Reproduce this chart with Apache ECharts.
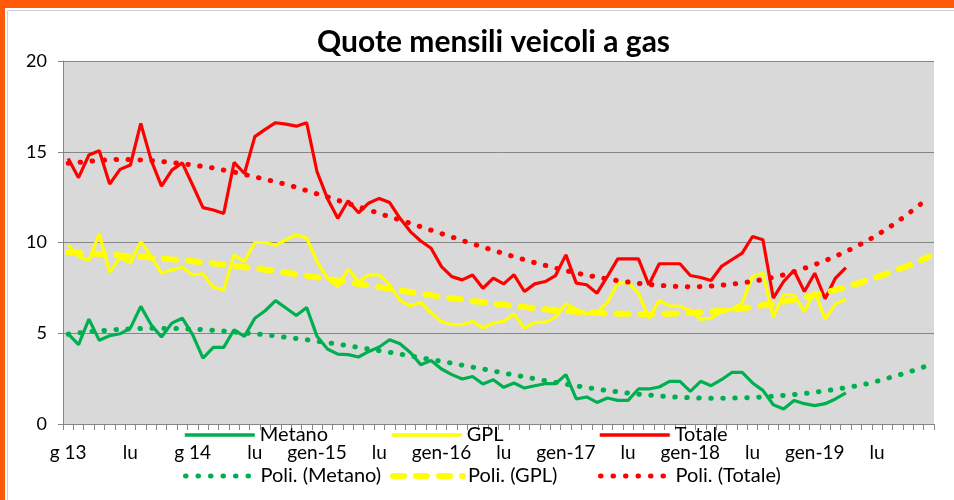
<!DOCTYPE html>
<html>
<head>
<meta charset="utf-8">
<script src="https://cdn.jsdelivr.net/npm/echarts@6/dist/echarts.min.js"></script>
<style>
  html, body { margin: 0; padding: 0; background: #fff; }
  #chart { width: 954px; height: 500px; }
</style>
</head>
<body>
<div id="chart"></div>
<script>
// etichette asse x (una ogni 6 mesi, da gen-13)
const tickLabels = ['g 13', 'lu', 'g 14', 'lu', 'gen-15', 'lu', 'gen-16', 'lu', 'gen-17', 'lu', 'gen-18', 'lu', 'gen-19', 'lu']

// quote mensili (%), gen-13 .. apr-19
const metano = [4.97, 4.37, 5.78, 4.61, 4.86, 4.97, 5.28, 6.48, 5.47, 4.79, 5.56, 5.83,
  4.92, 3.63, 4.22, 4.22, 5.19, 4.83, 5.83, 6.24, 6.80, 6.39, 5.98, 6.42,
  4.83, 4.13, 3.85, 3.82, 3.69, 4.00, 4.24, 4.64, 4.42, 3.94, 3.27, 3.50,
  3.03, 2.72, 2.48, 2.62, 2.20, 2.44, 2.02, 2.26, 1.98, 2.11, 2.22, 2.22,
  2.72, 1.38, 1.49, 1.19, 1.43, 1.30, 1.30, 1.93, 1.93, 2.04, 2.35, 2.35,
  1.80, 2.35, 2.11, 2.44, 2.84, 2.84, 2.26, 1.85, 1.06, 0.83, 1.30, 1.12,
  1.01, 1.12, 1.38, 1.71]
const gpl = [9.87, 9.23, 9.01, 10.48, 8.37, 9.17, 8.86, 10.06, 9.23, 8.31, 8.50, 8.64,
  8.22, 8.28, 7.54, 7.39, 9.32, 8.95, 10.00, 10.00, 9.85, 10.15, 10.42, 10.24,
  8.95, 8.04, 7.54, 8.53, 7.85, 8.22, 8.22, 7.67, 6.81, 6.51, 6.70, 6.11,
  5.65, 5.47, 5.47, 5.65, 5.30, 5.56, 5.65, 6.07, 5.28, 5.60, 5.60, 5.89,
  6.62, 6.33, 6.07, 6.15, 6.70, 7.76, 7.80, 7.21, 5.83, 6.81, 6.51, 6.48,
  6.25, 5.76, 5.83, 6.20, 6.33, 6.66, 8.13, 8.31, 5.89, 7.12, 7.12, 6.20,
  7.30, 5.78, 6.62, 6.88]
const totale = [14.63, 13.57, 14.82, 15.05, 13.22, 14.03, 14.27, 16.56, 14.54, 13.11, 13.99, 14.39,
  13.17, 11.92, 11.79, 11.60, 14.41, 13.80, 15.83, 16.23, 16.60, 16.52, 16.41, 16.60,
  13.90, 12.43, 11.33, 12.30, 11.64, 12.18, 12.43, 12.20, 11.33, 10.60, 10.08, 9.68,
  8.67, 8.12, 7.94, 8.21, 7.48, 8.04, 7.72, 8.22, 7.30, 7.72, 7.85, 8.18,
  9.32, 7.76, 7.67, 7.21, 8.13, 9.10, 9.10, 9.10, 7.67, 8.83, 8.83, 8.83,
  8.18, 8.07, 7.91, 8.68, 9.05, 9.41, 10.33, 10.15, 6.94, 7.85, 8.46, 7.30,
  8.31, 6.90, 8.04, 8.62]

// linee di tendenza polinomiali (fino a dic-19)
const poliMetano = [4.95, 5.02, 5.08, 5.13, 5.18, 5.21, 5.24, 5.26, 5.27, 5.27, 5.26, 5.25,
  5.23, 5.20, 5.16, 5.12, 5.07, 5.02, 4.97, 4.91, 4.85, 4.78, 4.71, 4.64,
  4.56, 4.48, 4.40, 4.31, 4.22, 4.13, 4.04, 3.95, 3.85, 3.75, 3.65, 3.55,
  3.45, 3.35, 3.24, 3.13, 3.03, 2.92, 2.81, 2.70, 2.60, 2.49, 2.39, 2.29,
  2.19, 2.10, 2.01, 1.92, 1.84, 1.77, 1.70, 1.64, 1.59, 1.54, 1.50, 1.47,
  1.45, 1.43, 1.42, 1.42, 1.43, 1.44, 1.46, 1.49, 1.53, 1.57, 1.62, 1.68,
  1.75, 1.83, 1.91, 2.00, 2.10, 2.21, 2.36, 2.52, 2.68, 2.85, 3.04, 3.24]
const poliGpl = [9.47, 9.43, 9.40, 9.36, 9.33, 9.29, 9.25, 9.21, 9.17, 9.12, 9.07, 9.02,
  8.97, 8.91, 8.85, 8.78, 8.71, 8.64, 8.57, 8.50, 8.42, 8.34, 8.26, 8.17,
  8.08, 7.99, 7.90, 7.81, 7.72, 7.63, 7.54, 7.45, 7.36, 7.27, 7.18, 7.10,
  7.01, 6.93, 6.86, 6.78, 6.71, 6.64, 6.57, 6.50, 6.44, 6.38, 6.32, 6.27,
  6.23, 6.19, 6.15, 6.12, 6.10, 6.08, 6.07, 6.06, 6.06, 6.07, 6.08, 6.10,
  6.12, 6.15, 6.19, 6.24, 6.30, 6.37, 6.45, 6.54, 6.63, 6.74, 6.85, 6.97,
  7.10, 7.24, 7.39, 7.55, 7.72, 7.90, 8.09, 8.29, 8.50, 8.72, 8.95, 9.22]
const poliTotale = [14.36, 14.41, 14.47, 14.52, 14.56, 14.58, 14.57, 14.55, 14.51, 14.46, 14.40, 14.34,
  14.27, 14.19, 14.11, 13.99, 13.88, 13.75, 13.62, 13.48, 13.35, 13.20, 13.04, 12.86,
  12.68, 12.51, 12.33, 12.15, 11.97, 11.79, 11.60, 11.42, 11.24, 11.06, 10.87, 10.68,
  10.49, 10.30, 10.11, 9.93, 9.75, 9.57, 9.39, 9.22, 9.05, 8.89, 8.74, 8.59,
  8.45, 8.32, 8.20, 8.09, 7.99, 7.90, 7.82, 7.75, 7.69, 7.64, 7.60, 7.57,
  7.56, 7.57, 7.60, 7.65, 7.70, 7.78, 7.86, 7.96, 8.08, 8.22, 8.39, 8.58,
  8.78, 9.00, 9.24, 9.50, 9.78, 10.08, 10.41, 10.77, 11.16, 11.58, 12.02, 12.48]

const months = poliTotale.map((_, i) => 'm' + i)

const FONT = 'Lato'
const VERDE = '#00B050'
const GIALLO = '#FFFF00'
const ROSSO = '#FF0000'
const ARANCIO = '#FF5A0A'
const PUNTI = [0.5, 11.5]
const TRATTI = [12, 12]

const chart = echarts.init(document.getElementById('chart'))

// una legenda per voce, così le colonne restano allineate come in Excel
const legendItem = (name, left, top, line) => ({
  data: [name],
  left: left,
  top: top,
  padding: 0,
  itemWidth: 70,
  itemHeight: 14,
  selectedMode: false,
  itemStyle: { opacity: 0 },
  lineStyle: line,
  textStyle: { fontFamily: FONT, fontSize: 20, color: '#000' }
})

const lineSeries = (name, data, color) => ({
  name: name,
  type: 'line',
  data: data,
  symbol: 'none',
  z: 2,
  lineStyle: { color: color, width: 3.2 },
  itemStyle: { color: color }
})

const trendSeries = (name, data, color, width, dash) => ({
  name: name,
  type: 'line',
  data: data,
  symbol: 'none',
  z: 3,
  lineStyle: { color: color, width: width, type: dash, cap: 'round' },
  itemStyle: { color: color }
})

chart.setOption({
  animation: false,
  backgroundColor: '#fff',
  title: {
    text: 'Quote mensili veicoli a gas',
    left: 312,
    top: 22,
    textStyle: { fontFamily: FONT, fontSize: 30, fontWeight: 'bold', color: '#000' }
  },
  graphic: [
    { type: 'rect', left: 5, top: 8, shape: { width: 960, height: 500 }, style: { fill: 'none', stroke: '#D0D0D0', lineWidth: 1 } },
    { type: 'rect', left: 0, top: 0, shape: { width: 954, height: 8 }, style: { fill: ARANCIO } },
    { type: 'rect', left: 0, top: 0, shape: { width: 5, height: 500 }, style: { fill: ARANCIO } }
  ],
  legend: [
    legendItem('Metano', 183, 425, { width: 3.5 }),
    legendItem('GPL', 390, 425, { width: 3.5 }),
    legendItem('Totale', 598, 425, { width: 3.5 }),
    legendItem('Poli. (Metano)', 183, 466, { width: 5, type: [0.5, 12], cap: 'round' }),
    legendItem('Poli. (GPL)', 390, 466, { width: 6, type: [11, 12], cap: 'round' }),
    legendItem('Poli. (Totale)', 598, 466, { width: 5, type: [0.5, 12], cap: 'round' })
  ],
  grid: {
    left: 63,
    right: 20,
    top: 61,
    bottom: 76,
    show: true,
    backgroundColor: '#D9D9D9',
    borderWidth: 0
  },
  xAxis: {
    type: 'category',
    data: months,
    boundaryGap: true,
    axisLine: { lineStyle: { color: '#868686', width: 1 } },
    axisTick: { show: true, interval: 0, length: 6, lineStyle: { color: '#868686' } },
    axisLabel: {
      interval: 0,
      margin: 19,
      fontFamily: FONT,
      fontSize: 19,
      color: '#000',
      formatter: (v, idx) => (idx % 6 === 0 ? tickLabels[idx / 6] : '')
    },
    splitLine: { show: false }
  },
  yAxis: {
    type: 'value',
    min: 0,
    max: 20,
    interval: 5,
    axisLine: { show: true, lineStyle: { color: '#868686', width: 1 } },
    axisTick: { show: true, length: 5, lineStyle: { color: '#868686' } },
    axisLabel: { margin: 16, fontFamily: FONT, fontSize: 18, color: '#000' },
    splitLine: { lineStyle: { color: '#868686', width: 1 } }
  },
  series: [
    lineSeries('Metano', metano, VERDE),
    lineSeries('GPL', gpl, GIALLO),
    lineSeries('Totale', totale, ROSSO),
    trendSeries('Poli. (Metano)', poliMetano, VERDE, 5, PUNTI),
    trendSeries('Poli. (GPL)', poliGpl, GIALLO, 6, TRATTI),
    trendSeries('Poli. (Totale)', poliTotale, ROSSO, 5, PUNTI)
  ]
})
</script>
</body>
</html>
